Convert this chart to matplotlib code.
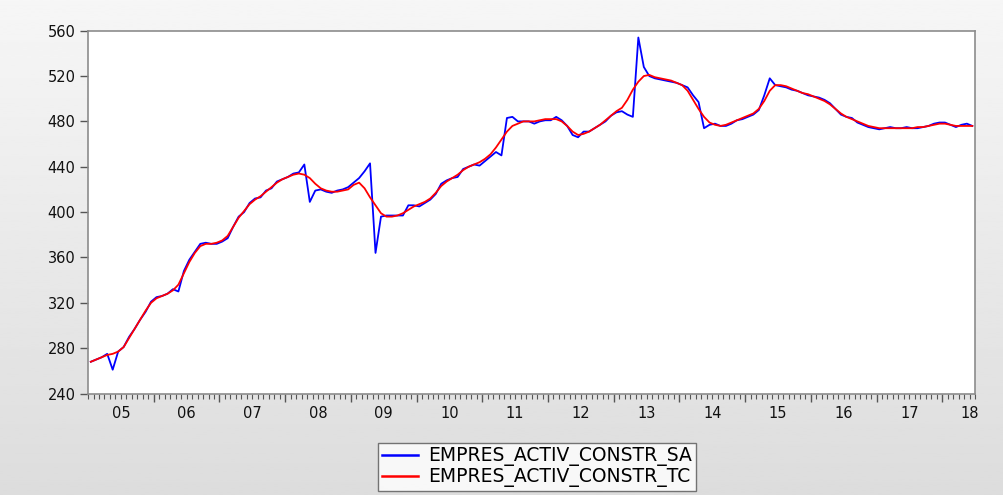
import numpy as np
import matplotlib.pyplot as plt
from matplotlib.ticker import MultipleLocator

# monthly values, 2005m1 .. 2018m6
sa_2005 = [268, 270, 272, 275, 261, 277, 281, 290, 297, 305, 312, 321]
sa_2006 = [325, 326, 328, 332, 330, 348, 358, 365, 372, 373, 372, 372]
sa_2007 = [374, 377, 387, 396, 400, 408, 412, 413, 419, 421, 427, 429]
sa_2008 = [431, 434, 435, 442, 409, 419, 420, 418, 417, 419, 420, 422]
sa_2009 = [426, 430, 436, 443, 364, 396, 397, 397, 397, 397, 406, 406]
sa_2010 = [405, 408, 411, 416, 425, 428, 430, 431, 438, 440, 442, 441]
sa_2011 = [445, 449, 453, 450, 483, 484, 480, 480, 480, 478, 480, 481]
sa_2012 = [481, 484, 481, 476, 468, 466, 471, 471, 474, 477, 480, 485]
sa_2013 = [488, 489, 486, 484, 554, 528, 520, 518, 517, 516, 515, 514]
sa_2014 = [512, 510, 503, 497, 474, 477, 478, 476, 476, 478, 481, 482]
sa_2015 = [484, 486, 490, 503, 518, 512, 511, 510, 508, 507, 505, 503]
sa_2016 = [502, 501, 499, 496, 491, 486, 484, 483, 479, 477, 475, 474]
sa_2017 = [473, 474, 475, 474, 474, 475, 474, 474, 475, 476, 478, 479]
sa_2018 = [479, 477, 475, 477, 478, 476]

tc_2005 = [268, 270, 272, 274, 275, 277, 281, 289, 297, 305, 313, 320]
tc_2006 = [324, 326, 328, 331, 336, 346, 356, 364, 370, 372, 372, 373]
tc_2007 = [375, 379, 387, 395, 401, 407, 411, 414, 418, 422, 426, 429]
tc_2008 = [431, 433, 434, 433, 430, 425, 421, 419, 418, 418, 419, 420]
tc_2009 = [424, 426, 421, 413, 406, 399, 396, 396, 397, 399, 402, 405]
tc_2010 = [407, 409, 412, 417, 423, 427, 430, 433, 437, 440, 442, 444]
tc_2011 = [447, 451, 457, 464, 471, 476, 478, 480, 480, 480, 481, 482]
tc_2012 = [482, 482, 480, 476, 471, 468, 469, 471, 474, 477, 481, 485]
tc_2013 = [489, 492, 499, 508, 515, 520, 521, 519, 518, 517, 516, 514]
tc_2014 = [512, 507, 499, 491, 484, 479, 477, 476, 477, 479, 481, 483]
tc_2015 = [485, 487, 491, 498, 507, 512, 512, 511, 509, 507, 505, 504]
tc_2016 = [502, 500, 498, 495, 491, 487, 484, 482, 480, 478, 476, 475]
tc_2017 = [474, 474, 474, 474, 474, 474, 474, 475, 475, 476, 477, 478]
tc_2018 = [478, 477, 476, 476, 476, 476]

year_labels = ['05', '06', '07', '08', '09', '10', '11', '12', '13', '14', '15', '16', '17', '18']
start_year = 2005

sa = np.concatenate([sa_2005, sa_2006, sa_2007, sa_2008, sa_2009, sa_2010, sa_2011,
                     sa_2012, sa_2013, sa_2014, sa_2015, sa_2016, sa_2017, sa_2018])
tc = np.concatenate([tc_2005, tc_2006, tc_2007, tc_2008, tc_2009, tc_2010, tc_2011,
                     tc_2012, tc_2013, tc_2014, tc_2015, tc_2016, tc_2017, tc_2018])
t = start_year + (np.arange(len(sa)) + 0.5) / 12
x_end = start_year + len(sa) / 12

plt.rcParams['font.family'] = ['DejaVu Sans']

fig = plt.figure(figsize=(10.04, 4.95), dpi=100)

# grey gradient backdrop like the EViews window
bg = fig.add_axes([0, 0, 1, 1], zorder=-10)
grad = np.linspace(0.965, 0.865, 256).reshape(-1, 1)
bg.imshow(grad, aspect='auto', cmap='gray', vmin=0, vmax=1, extent=[0, 1, 0, 1])
bg.axis('off')

ax = fig.add_axes([0.0877, 0.205, 0.8835, 0.733])
ax.set_facecolor('white')

ax.plot(t, sa, color='#0000ff', linewidth=1.3, label='EMPRES_ACTIV_CONSTR_SA')
ax.plot(t, tc, color='#ff0000', linewidth=1.3, label='EMPRES_ACTIV_CONSTR_TC')

ax.set_xlim(start_year, x_end)
ax.set_ylim(240, 560)
ax.yaxis.set_major_locator(MultipleLocator(40))

ax.set_xticks(np.arange(start_year + 1, int(x_end) + 1))
ax.set_xticklabels([])
ax.xaxis.set_minor_locator(MultipleLocator(1 / 12))
ax.tick_params(axis='x', which='major', length=6, width=1, color='#555555', direction='out')
ax.tick_params(axis='x', which='minor', length=3.5, width=0.8, color='#555555', direction='out')
ax.tick_params(axis='y', which='major', length=6, width=1, color='#555555', direction='out',
               labelsize=10.5, pad=3, labelcolor='#111111')

trans = ax.get_xaxis_transform()
for k, lab in enumerate(year_labels):
    pos = min(start_year + k + 0.5, x_end - 0.075)
    ax.text(pos, -0.055, lab, transform=trans, ha='center', va='center',
            fontsize=10.5, color='#111111')

for s in ax.spines.values():
    s.set_color('#8c8c8c')
    s.set_linewidth(1.2)

leg = fig.legend(loc='center', bbox_to_anchor=(0.535, 0.057), ncol=1, frameon=True,
                 fancybox=False, fontsize=13.5, handlelength=1.9, handletextpad=0.55,
                 borderpad=0.2, labelspacing=0.05, borderaxespad=0)
leg.get_frame().set_edgecolor('#555555')
leg.get_frame().set_linewidth(1.0)
for line in leg.get_lines():
    line.set_linewidth(1.8)

plt.savefig('out.png', dpi=100)
